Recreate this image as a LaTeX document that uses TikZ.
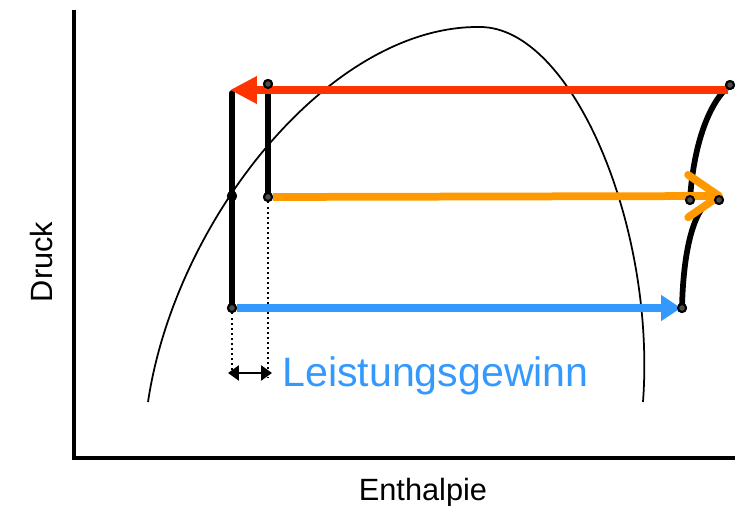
\documentclass[tikz,border=0pt]{standalone}
\usepackage{fontspec}
\setmainfont{Liberation Sans}
\usepackage{xcolor}
\usepackage{tikz}
\usetikzlibrary{arrows.meta}
\definecolor{hotred}{HTML}{FF3300}
\definecolor{warmorange}{HTML}{FF9900}
\definecolor{gainblue}{HTML}{3399FF}
\tikzset{
    diagram/.style={x=0.02cm, y=-0.02cm, font=\fontsize{17.5}{20}\selectfont},
    diagram axis/.style={line width=0.08cm},
    diagram dome/.style={line width=0.035cm},
    diagram stroke/.style={line width=0.115cm, line cap=round},
    diagram dot/.style={circle, draw=black, fill=gray!60!black, line width=0.04cm,
        inner sep=0pt, minimum size=0.16cm},
    diagram black dot/.style={diagram dot, fill=black},
    diagram arrow/.style={-{Triangle[length=0.54cm, width=0.52cm]}, line width=0.165cm},
    diagram open arrow/.style={-{Straight Barb[length=0.62cm, width=0.85cm, round]}, line width=0.155cm},
    diagram helper/.style={dotted, line width=0.03cm},
    diagram gap arrow/.style={{Triangle[length=0.22cm, width=0.3cm]}-{Triangle[length=0.22cm, width=0.3cm]},
        line width=0.05cm},
    diagram label/.style={inner sep=0pt},
}
\begin{document}
\begin{tikzpicture}[diagram]

    \useasboundingbox (0,0) rectangle (735,506);

    % Axes
    \coordinate (origin) at (74,458);
    \coordinate (ytop) at (74,10);
    \coordinate (xend) at (735,458);
    \draw[diagram axis] (ytop) -- ([yshift=-0.04cm]origin) (origin) -- (xend);
    \node[diagram label, rotate=90, anchor=base] (druck) at (52,262) {Druck};
    \node[diagram label, anchor=base] (enthalpie) at (423,501) {Enthalpie};

    % Dome
    \coordinate (domeleft) at (148,402);
    \coordinate (domepeak) at (480,27);
    \coordinate (domeright) at (643,402);
    \draw[diagram dome] (domeleft) .. controls (175,220) and (330,25) .. (domepeak)
        .. controls (572,27) and (656,226) .. (domeright);

    % Nodes
    \node[diagram dot] (lowleft) at (232,308) {};
    \node[diagram black dot] (midleft) at (232,196) {};
    \node[diagram dot] (topinner) at (268,84) {};
    \node[diagram dot] (midinner) at (268,197) {};
    \node[diagram dot] (lowright) at (682,308) {};
    \node[diagram dot] (midright) at (690,200) {};
    \node[diagram dot] (midouter) at (719,200) {};
    \node[diagram dot] (topright) at (730,85) {};
    \coordinate (redstart) at (728,90);
    \coordinate (redtip) at (230,90);
    \coordinate (lefttop) at (232,93);
    \coordinate (orangetip) at (723,196);
    \coordinate (bluetip) at (681,308);
    \coordinate (kink) at (703,207);
    \coordinate (dropleft) at (232,378);
    \coordinate (dropinner) at (268,378);

    % Strokes
    \draw[diagram stroke] (lefttop) -- (lowleft.center);
    \draw[diagram stroke] (topinner.center) -- (midinner.center);
    \draw[diagram stroke] (lowright.center) .. controls (683,262) and (690,224) .. (kink);
    \draw[diagram stroke] (midright.center) .. controls (693,150) and (707,104) .. (topright.center);
    \draw[diagram helper] (lowleft) -- (dropleft);
    \draw[diagram helper] (midinner) -- (dropinner);

    % Arrows
    \draw[diagram arrow, hotred] (redstart) -- (redtip);
    \draw[diagram arrow, gainblue, -{Triangle[length=0.4cm, width=0.5cm]}] (lowleft.east) -- (bluetip);
    \draw[diagram open arrow, warmorange] (midinner.east) -- (orangetip);
    \draw[diagram gap arrow] (228,373) -- (272,373);
    \node[diagram label, anchor=base west, text=gainblue, font=\fontsize{23.4}{28}\selectfont]
        (gain) at (282,387) {Leistungsgewinn};

    % Dots on top
    \foreach \p in {lowleft, topinner, midinner, lowright, midright, midouter, topright} {
        \node[diagram dot] at (\p) {};
    }
    \node[diagram black dot] at (midleft) {};

\end{tikzpicture}
\end{document}
